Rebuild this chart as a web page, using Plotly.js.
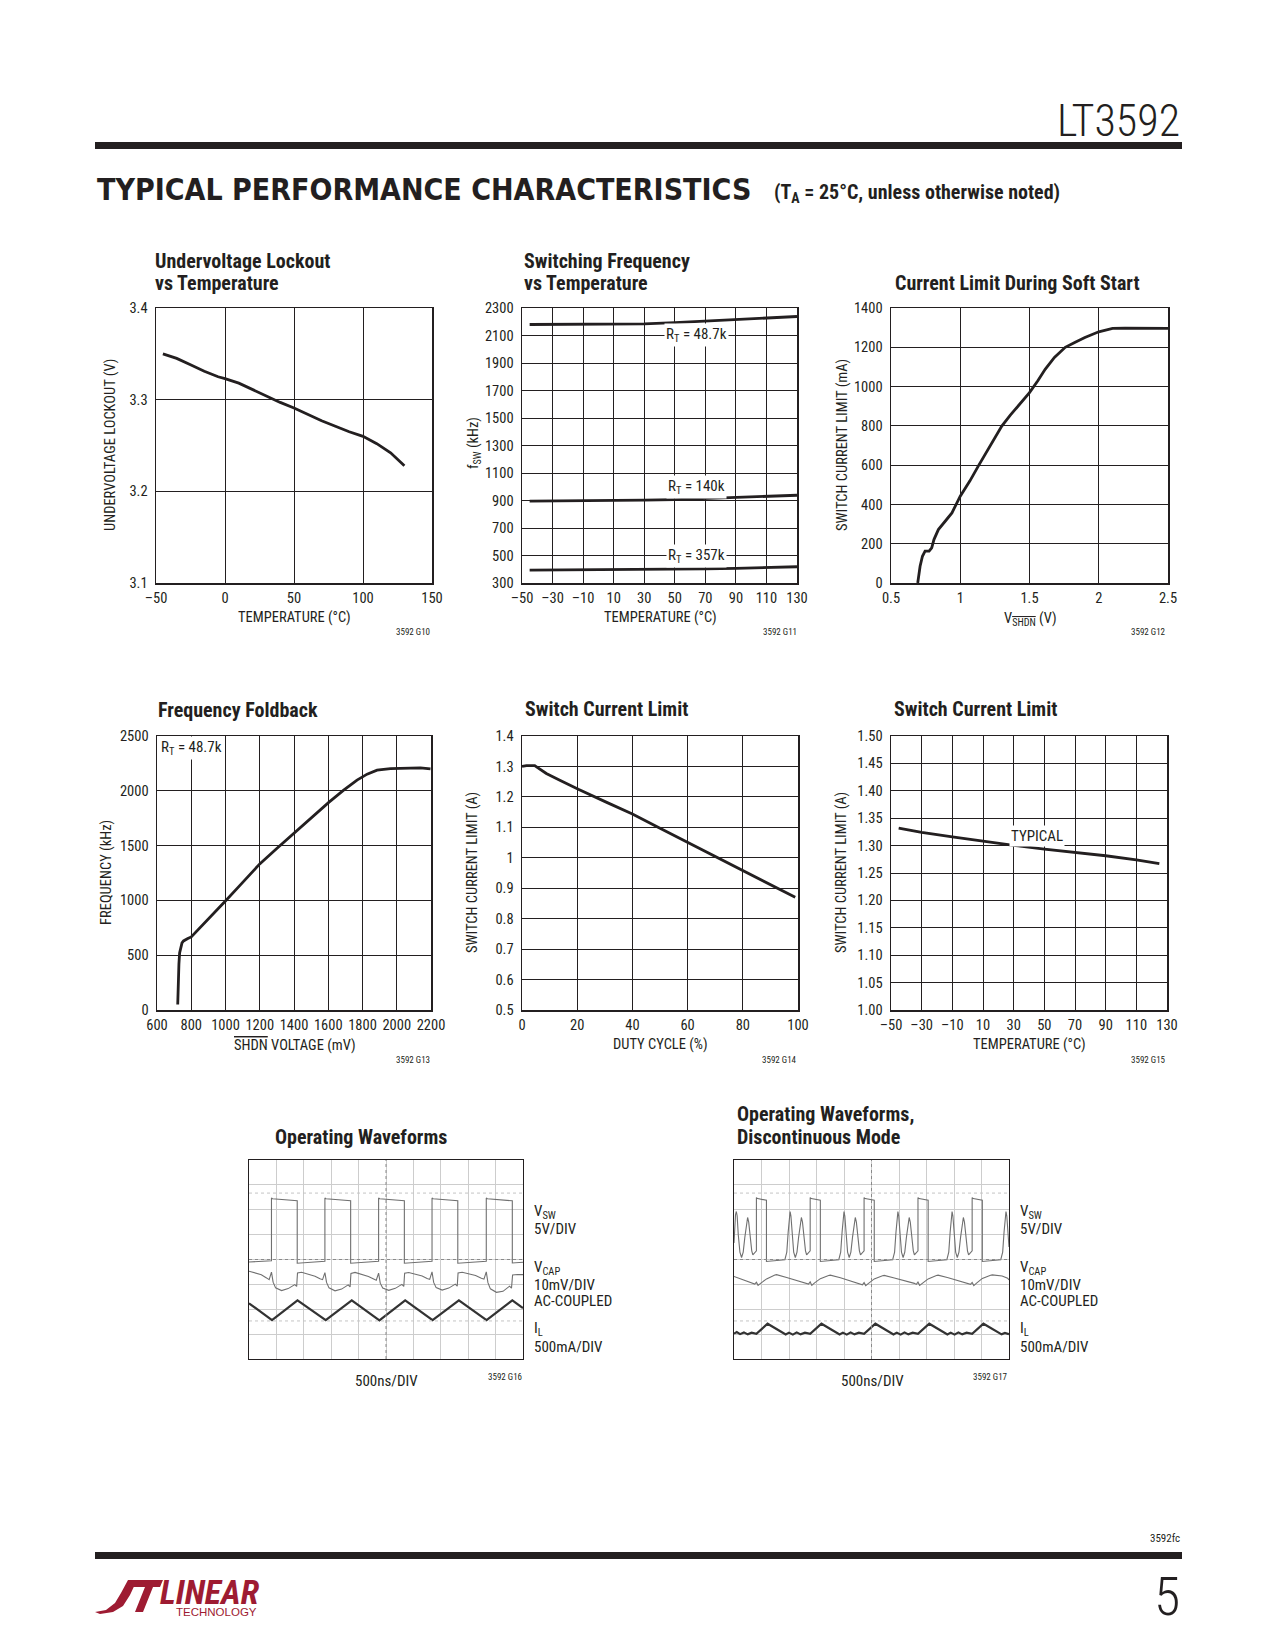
<!DOCTYPE html>
<html><head><meta charset="utf-8">
<script src="https://cdn.plot.ly/plotly-3.0.1.min.js"></script>
<style>html,body{margin:0;padding:0;background:#fff}</style>
</head><body><div id="page" style="width:1275px;height:1650px"></div>
<script>
// ---------------- DATA ----------------
// Undervoltage lockout vs temperature
const uvloTemp = [-45, -35, -25, -15, -5, 0, 10, 20, 30, 40, 50, 60, 70, 80, 90, 100, 110, 120, 130];
const uvloVolt = [3.350, 3.345, 3.338, 3.331, 3.325, 3.323, 3.318, 3.311, 3.304, 3.297, 3.291, 3.284, 3.277, 3.271, 3.265, 3.260, 3.252, 3.242, 3.228];
// Switching frequency vs temperature
const fswTemp = [-45, -30, -10, 10, 30, 50, 70, 90, 110, 130];
const fsw48k7 = [2180, 2180, 2181, 2182, 2185, 2194, 2204, 2214, 2226, 2238];
const fsw140k = [895, 896, 897, 899, 902, 907, 914, 921, 930, 938];
const fsw357k = [394, 395, 395, 396, 398, 400, 403, 407, 413, 418];
// Current limit during soft start
const ssVolt = [0.693, 0.71, 0.727, 0.746, 0.775, 0.794, 0.81, 0.842, 0.90, 0.94, 1.0, 1.07, 1.13, 1.22, 1.30, 1.36, 1.42, 1.50, 1.56, 1.613, 1.68, 1.758, 1.83, 1.90, 2.0, 2.10, 2.19, 2.3, 2.4, 2.5];
const ssLimit = [0, 85, 136, 162, 162, 179, 221, 272, 322, 357, 442, 520, 595, 700, 799, 853, 901, 969, 1030, 1088, 1148, 1200, 1226, 1250, 1279, 1296, 1298, 1297, 1297, 1296];
// Frequency foldback
const ffShdn = [721, 723, 725, 728, 732, 738, 746, 755, 765, 780, 800, 853, 931, 1001, 1087, 1200, 1301, 1402, 1505, 1603, 1690, 1768, 1827, 1885, 1963, 2060, 2138, 2197];
const ffFreq = [50, 200, 309, 420, 521, 575, 612, 630, 642, 652, 667, 752, 880, 997, 1142, 1333, 1476, 1618, 1764, 1894, 2006, 2097, 2152, 2188, 2203, 2209, 2209, 2200];
// Switch current limit vs duty cycle
const dcDuty = [0, 1.6, 4.6, 6.4, 8.8, 13.7, 20.4, 30.7, 40, 50, 60, 70.7, 80, 90, 99];
const dcLimit = [1.300, 1.303, 1.303, 1.293, 1.277, 1.255, 1.225, 1.182, 1.144, 1.097, 1.051, 1.002, 0.958, 0.912, 0.870];
// Switch current limit vs temperature
const sclTemp = [-45, -30, -10, 10, 30, 50, 70, 90, 110, 125];
const sclLimit = [1.332, 1.324, 1.316, 1.308, 1.3005, 1.2935, 1.2875, 1.2815, 1.274, 1.267];

// Operating waveforms (x, y in scope divisions)
const w1SwX = [0, 0.82, 0.82, 0.86, 1.76, 1.76, 2.77, 2.77, 2.81, 3.71, 3.71, 4.73, 4.73, 4.77, 5.67, 5.67, 6.68, 6.68, 6.72, 7.62, 7.62, 8.66, 8.66, 8.70, 9.61, 9.61, 10];
const w1SwY = [3.90, 3.95, 6.47, 6.44, 6.36, 3.85, 3.93, 6.47, 6.44, 6.36, 3.85, 3.93, 6.47, 6.44, 6.36, 3.85, 3.93, 6.47, 6.44, 6.36, 3.85, 3.93, 6.47, 6.44, 6.36, 3.86, 3.89];
const w1CapX = [0, 0.2, 0.45, 0.64, 0.735, 0.82, 0.88, 0.97, 1.19, 1.43, 1.67, 1.74, 1.77, 1.92, 2.16, 2.41, 2.59, 2.685, 2.77, 2.83, 2.92, 3.14, 3.38, 3.62, 3.69, 3.72, 3.87, 4.11, 4.36, 4.55, 4.645, 4.73, 4.79, 4.88, 5.10, 5.34, 5.58, 5.65, 5.68, 5.83, 6.07, 6.32, 6.50, 6.595, 6.68, 6.74, 6.83, 7.05, 7.29, 7.53, 7.60, 7.63, 7.78, 8.02, 8.27, 8.48, 8.575, 8.66, 8.72, 8.81, 9.03, 9.27, 9.51, 9.58, 9.62, 9.80, 10];
const w1CapY = [3.53, 3.46, 3.39, 3.26, 3.19, 3.49, 3.09, 2.86, 2.75, 2.83, 2.99, 2.92, 3.46, 3.49, 3.42, 3.33, 3.23, 3.19, 3.47, 3.08, 2.86, 2.74, 2.81, 2.98, 2.90, 3.44, 3.48, 3.41, 3.32, 3.22, 3.17, 3.45, 3.05, 2.85, 2.76, 2.84, 3.00, 2.92, 3.45, 3.48, 3.42, 3.34, 3.24, 3.20, 3.50, 3.08, 2.87, 2.77, 2.85, 3.01, 2.93, 3.46, 3.49, 3.44, 3.36, 3.25, 3.21, 3.50, 3.07, 2.82, 2.68, 2.72, 2.93, 2.85, 3.38, 3.40, 3.39];
const w1IlX = [0, 0.84, 1.77, 2.80, 3.75, 4.76, 5.70, 6.70, 7.66, 8.67, 9.61, 10];
const w1IlY = [2.24, 1.56, 2.36, 1.56, 2.36, 1.55, 2.36, 1.56, 2.36, 1.56, 2.36, 2.05];

const w2SwX = [0, 0.015, 0.055, 0.085, 0.115, 0.155, 0.215, 0.275, 0.335, 0.395, 0.455, 0.495, 0.535, 0.585, 0.645, 0.685, 0.755, 0.815, 0.815, 0.86, 1.18, 1.18,
  1.85, 1.92, 1.97, 2.01, 2.04, 2.07, 2.11, 2.17, 2.23, 2.29, 2.35, 2.41, 2.45, 2.49, 2.54, 2.60, 2.64, 2.71, 2.77, 2.77, 2.81, 3.14, 3.14,
  3.81, 3.88, 3.93, 3.97, 4.00, 4.03, 4.07, 4.13, 4.19, 4.25, 4.31, 4.37, 4.41, 4.45, 4.50, 4.56, 4.60, 4.67, 4.73, 4.73, 4.77, 5.10, 5.10,
  5.77, 5.84, 5.89, 5.93, 5.96, 5.99, 6.03, 6.09, 6.15, 6.21, 6.27, 6.33, 6.37, 6.41, 6.46, 6.52, 6.56, 6.63, 6.69, 6.69, 6.73, 7.06, 7.06,
  7.74, 7.81, 7.86, 7.90, 7.93, 7.96, 8.00, 8.06, 8.12, 8.18, 8.24, 8.30, 8.34, 8.38, 8.43, 8.49, 8.53, 8.60, 8.66, 8.66, 8.70, 9.03, 9.03,
  9.70, 9.77, 9.82, 9.86, 9.89, 9.92, 9.96, 10];
const w2SwY = [4.66, 5.1, 5.8, 5.93, 5.75, 5.0, 4.3, 4.08, 4.3, 4.9, 5.5, 5.69, 5.5, 4.9, 4.35, 4.19, 4.3, 4.35, 6.49, 6.45, 6.38, 3.92,
  3.99, 4.3, 5.1, 5.8, 5.93, 5.75, 5.0, 4.3, 4.08, 4.3, 4.9, 5.5, 5.69, 5.5, 4.9, 4.35, 4.19, 4.3, 4.35, 6.49, 6.45, 6.38, 3.92,
  3.99, 4.3, 5.1, 5.8, 5.93, 5.75, 5.0, 4.3, 4.08, 4.3, 4.9, 5.5, 5.69, 5.5, 4.9, 4.35, 4.19, 4.3, 4.35, 6.49, 6.45, 6.38, 3.92,
  3.99, 4.3, 5.1, 5.8, 5.93, 5.75, 5.0, 4.3, 4.08, 4.3, 4.9, 5.5, 5.69, 5.5, 4.9, 4.35, 4.19, 4.3, 4.35, 6.49, 6.45, 6.38, 3.92,
  3.99, 4.3, 5.1, 5.8, 5.93, 5.75, 5.0, 4.3, 4.08, 4.3, 4.9, 5.5, 5.69, 5.5, 4.9, 4.35, 4.19, 4.3, 4.35, 6.49, 6.45, 6.38, 3.92,
  3.99, 4.3, 5.1, 5.8, 5.93, 5.75, 5.0, 4.5];
const w2CapX = [0, 0.30, 0.60, 0.755, 0.815, 0.875, 0.965, 1.185, 1.485, 1.545, 1.915, 2.275, 2.645, 2.71, 2.77, 2.83, 2.92, 3.14, 3.44, 3.50, 3.87, 4.23, 4.60, 4.67, 4.73, 4.79, 4.88, 5.10, 5.40, 5.46, 5.83, 6.19, 6.56, 6.63, 6.69, 6.75, 6.84, 7.06, 7.36, 7.42, 7.79, 8.15, 8.52, 8.60, 8.66, 8.72, 8.81, 9.03, 9.33, 9.39, 9.75, 9.95, 10];
const w2CapY = [3.32, 3.20, 3.06, 3.01, 3.09, 2.96, 3.04, 3.22, 3.38, 3.39, 3.28, 3.16, 3.03, 3.01, 3.10, 2.96, 3.05, 3.23, 3.36, 3.37, 3.27, 3.14, 3.02, 2.98, 3.07, 2.95, 3.03, 3.22, 3.35, 3.36, 3.26, 3.16, 3.04, 3.00, 3.09, 2.96, 3.04, 3.22, 3.36, 3.37, 3.27, 3.15, 3.03, 3.00, 3.08, 2.95, 3.04, 3.24, 3.37, 3.38, 3.34, 3.25, 3.18];
const w2IlX = [0, 0.10, 0.22, 0.36, 0.50, 0.64, 0.815, 1.22, 1.88, 2.00, 2.14, 2.28, 2.42, 2.58, 2.77, 3.18, 3.84, 3.96, 4.10, 4.24, 4.38, 4.54, 4.73, 5.14, 5.80, 5.92, 6.06, 6.20, 6.34, 6.50, 6.69, 7.10, 7.76, 7.88, 8.02, 8.16, 8.30, 8.46, 8.66, 9.07, 9.73, 9.85, 10];
const w2IlY = [1.02, 1.08, 1.00, 1.07, 0.99, 1.06, 1.01, 1.42, 0.99, 1.06, 0.98, 1.07, 0.99, 1.06, 1.01, 1.42, 0.99, 1.06, 0.98, 1.07, 0.99, 1.06, 1.01, 1.42, 0.99, 1.06, 0.98, 1.07, 0.99, 1.06, 1.01, 1.42, 0.99, 1.06, 0.98, 1.07, 0.99, 1.06, 1.01, 1.42, 0.99, 1.05, 1.00];

// tick labels
const tTemp200 = ['\u201350', '0', '50', '100', '150'];
const tTemp20 = ['\u201350', '\u201330', '\u201310', '10', '30', '50', '70', '90', '110', '130'];
const tUvlo = ['3.1', '3.2', '3.3', '3.4'];
const tFsw = ['300', '500', '700', '900', '1100', '1300', '1500', '1700', '1900', '2100', '2300'];
const tSsV = ['0.5', '1', '1.5', '2', '2.5'];
const tSsI = ['0', '200', '400', '600', '800', '1000', '1200', '1400'];
const tFfX = ['600', '800', '1000', '1200', '1400', '1600', '1800', '2000', '2200'];
const tFfY = ['0', '500', '1000', '1500', '2000', '2500'];
const tDuty = ['0', '20', '40', '60', '80', '100'];
const tDcI = ['0.5', '0.6', '0.7', '0.8', '0.9', '1', '1.1', '1.2', '1.3', '1.4'];
const tSclI = ['1.00', '1.05', '1.10', '1.15', '1.20', '1.25', '1.30', '1.35', '1.40', '1.45', '1.50'];

// ---------------- LAYOUT ----------------
const W = 1275, H = 1650;
const FN = "Roboto Condensed, Noto Sans Condensed, Liberation Sans Narrow, DejaVu Sans Condensed, sans-serif";
const INK = '#231f20';
const RED = '#9e1b32';
const nums = a => a.map(s => Number(s.replace('\u2013', '-')));

const layout = {width: W, height: H, margin: {l: 0, r: 0, t: 0, b: 0}, showlegend: false,
  paper_bgcolor: '#fff', plot_bgcolor: '#fff', annotations: [], shapes: []};
const traces = [];

function sfx(i) { return i === 1 ? '' : String(i); }
function axes(i, box, xr, xt, yr, yt, scope) {
  const base = {showline: true, mirror: true, linecolor: INK, linewidth: 1.5, zeroline: false,
    showgrid: true, gridcolor: INK, gridwidth: 1, ticks: '', fixedrange: true, tickangle: 0,
    tickfont: {family: FN, size: 14.5, color: INK}};
  const xa = Object.assign({}, base, {domain: [box[0] / W, box[2] / W], range: xr, anchor: 'y' + sfx(i), ticklabelstandoff: 1});
  const ya = Object.assign({}, base, {domain: [1 - box[3] / H, 1 - box[1] / H], range: yr, anchor: 'x' + sfx(i), ticklabelstandoff: 4});
  if (scope) {
    [xa, ya].forEach(a => { a.gridcolor = '#cdcdcd'; a.showticklabels = false; a.dtick = 1; a.tick0 = 0; a.linewidth = 1.3; });
  } else {
    xa.tickmode = 'array'; xa.tickvals = nums(xt); xa.ticktext = xt;
    ya.tickmode = 'array'; ya.tickvals = nums(yt); ya.ticktext = yt;
  }
  layout['xaxis' + sfx(i)] = xa; layout['yaxis' + sfx(i)] = ya;
}
function line(i, x, y, w, c) {
  traces.push({type: 'scatter', mode: 'lines', x: x, y: y, xaxis: 'x' + sfx(i), yaxis: 'y' + sfx(i),
    line: {color: c || INK, width: w || 2.8}, hoverinfo: 'skip'});
}
function T(text, x, y, size, o) {
  o = o || {};
  const f = {family: o.fam || FN, size: size, color: o.col || INK};
  if (o.wt) f.weight = o.wt;
  layout.annotations.push({text: text, x: x / W, y: 1 - y / H, xref: 'paper', yref: 'paper', showarrow: false,
    xanchor: o.xa || 'center', yanchor: o.ya || 'middle', textangle: o.ang || 0, font: f});
}
function D(i, text, x, y, size, o) {
  o = o || {};
  layout.annotations.push({text: text, x: x, y: y, xref: 'x' + sfx(i), yref: 'y' + sfx(i), showarrow: false,
    xanchor: o.xa || 'center', yanchor: o.ya || 'middle', bgcolor: o.bg || 'rgba(0,0,0,0)', borderpad: 1,
    font: {family: FN, size: size, color: INK}});
}
function P(pts) { return 'M ' + pts.map(p => (p[0] / W).toFixed(5) + ' ' + (1 - p[1] / H).toFixed(5)).join(' L ') + ' Z'; }
function rectPx(x0, y0, x1, y1, col) {
  layout.shapes.push({type: 'rect', xref: 'paper', yref: 'paper', x0: x0 / W, x1: x1 / W, y0: 1 - y1 / H, y1: 1 - y0 / H,
    fillcolor: col, line: {width: 0}});
}

// plot boxes [left, top, right, bottom] in px
const B1 = [156, 308, 432, 583], B2 = [522, 308, 797, 583], B3 = [891, 308, 1168, 583];
const B4 = [157, 736, 431, 1010], B5 = [522, 736, 798, 1010], B6 = [891, 736, 1167, 1010];
const B7 = [249, 1160, 523, 1359], B8 = [734, 1160, 1009, 1359];

axes(1, B1, [-50, 150], tTemp200, [3.1, 3.4], tUvlo);
axes(2, B2, [-50, 130], tTemp20, [300, 2300], tFsw);
axes(3, B3, [0.5, 2.5], tSsV, [0, 1400], tSsI);
axes(4, B4, [600, 2200], tFfX, [0, 2500], tFfY);
axes(5, B5, [0, 100], tDuty, [0.5, 1.4], tDcI);
axes(6, B6, [-50, 130], tTemp20, [1.0, 1.5], tSclI);
axes(7, B7, [0, 10], null, [0, 8], null, true);
axes(8, B8, [0, 10], null, [0, 8], null, true);

line(1, uvloTemp, uvloVolt);
line(2, fswTemp, fsw48k7); line(2, fswTemp, fsw140k); line(2, fswTemp, fsw357k);
line(3, ssVolt, ssLimit);
line(4, ffShdn, ffFreq);
line(5, dcDuty, dcLimit);
line(6, sclTemp, sclLimit);
line(7, w1SwX, w1SwY, 1.1, '#707070'); line(7, w1CapX, w1CapY, 1.1, '#707070'); line(7, w1IlX, w1IlY, 2.2, '#333');
line(8, w2SwX, w2SwY, 1.1, '#707070'); line(8, w2CapX, w2CapY, 1.1, '#707070'); line(8, w2IlX, w2IlY, 2.2, '#333');

// scope centre lines & marker lines
[7, 8].forEach(i => {
  const xr = 'x' + i, yr = 'y' + i;
  layout.shapes.push({type: 'line', xref: xr, yref: yr, x0: 5, x1: 5, y0: 0, y1: 8, line: {color: '#8a8a8a', width: 1, dash: 'dot'}});
  layout.shapes.push({type: 'line', xref: xr, yref: yr, x0: 0, x1: 10, y0: 4, y1: 4, line: {color: '#8a8a8a', width: 1, dash: 'dot'}});
  layout.shapes.push({type: 'line', xref: xr, yref: yr, x0: 0, x1: 10, y0: 6.67, y1: 6.67, line: {color: '#c4c4c4', width: 1, dash: 'dot'}});
  layout.shapes.push({type: 'line', xref: xr, yref: yr, x0: 0, x1: 10, y0: 1.53, y1: 1.53, line: {color: '#c4c4c4', width: 1, dash: 'dot'}});
});

// in-plot labels
D(2, 'R<sub>T</sub> = 48.7k', 64, 2100, 15, {bg: '#fff'});
D(2, 'R<sub>T</sub> = 140k', 64, 1000, 15, {bg: '#fff'});
D(2, 'R<sub>T</sub> = 357k', 64, 495, 15, {bg: '#fff'});
D(4, 'R<sub>T</sub> = 48.7k', 612, 2390, 15, {bg: '#fff', xa: 'left'});
D(6, 'TYPICAL', 45, 1.317, 15, {bg: '#fff'});

// chart titles
const TB = {xa: 'left'};
T('<b>Undervoltage Lockout</b>', 153, 261, 20, TB); T('<b>vs Temperature</b>', 153, 283, 20, TB);
T('<b>Switching Frequency</b>', 522, 261, 20, TB); T('<b>vs Temperature</b>', 522, 283, 20, TB);
T('<b>Current Limit During Soft Start</b>', 893, 283, 20, TB);
T('<b>Frequency Foldback</b>', 156, 710, 20, TB);
T('<b>Switch Current Limit</b>', 523, 709, 20, TB);
T('<b>Switch Current Limit</b>', 892, 709, 20, TB);
T('<b>Operating Waveforms</b>', 273, 1137, 20, TB);
T('<b>Operating Waveforms,</b>', 735, 1114, 20, TB); T('<b>Discontinuous Mode</b>', 735, 1137, 20, TB);

// axis titles
const OV = s => '<span style="text-decoration:overline">' + s + '</span>';
T('TEMPERATURE (\u00b0C)', 294, 617, 14.5); T('TEMPERATURE (\u00b0C)', 660, 617, 14.5);
T('V<sub>' + OV('SHDN') + '</sub> (V)', 1030, 619, 14.5);
T(OV('SHDN') + ' VOLTAGE (mV)', 295, 1045, 14.5); T('DUTY CYCLE (%)', 660, 1044, 14.5); T('TEMPERATURE (\u00b0C)', 1029, 1044, 14.5);
const R90 = {ang: -90};
T('UNDERVOLTAGE LOCKOUT (V)', 110, 445, 14.5, R90);
T('f<sub>SW</sub> (kHz)', 474, 443, 14.5, R90);
T('SWITCH CURRENT LIMIT (mA)', 842, 445, 14.5, R90);
T('FREQUENCY (kHz)', 107, 873, 14.5, R90);
T('SWITCH CURRENT LIMIT (A)', 473, 873, 14.5, R90);
T('SWITCH CURRENT LIMIT (A)', 842, 873, 14.5, R90);

// figure codes
const RA = {xa: 'right'};
T('3592 G10', 432, 632, 9, RA); T('3592 G11', 799, 632, 9, RA); T('3592 G12', 1168, 632, 9, RA);
T('3592 G13', 432, 1060, 9, RA); T('3592 G14', 799, 1060, 9, RA); T('3592 G15', 1168, 1060, 9, RA);
T('3592 G16', 524, 1377, 9, RA); T('3592 G17', 1010, 1377, 9, RA);

// scope labels
[532, 1018].forEach(x => {
  const L = {xa: 'left'};
  T('V<sub>SW</sub>', x, 1212, 15, L); T('5V/DIV', x, 1229, 15, L);
  T('V<sub>CAP</sub>', x, 1268, 15, L); T('10mV/DIV', x, 1285, 15, L); T('AC-COUPLED', x, 1301, 15, L);
  T('I<sub>L</sub>', x, 1329, 15, L); T('500mA/DIV', x, 1347, 15, L);
});
T('500ns/DIV', 386, 1381, 15); T('500ns/DIV', 872, 1381, 15);

// page header / footer
rectPx(95, 142, 1182, 149, INK);
rectPx(95, 1552, 1182, 1559, INK);
T('LT3592', 1182, 121, 44, {xa: 'right', wt: 300});
T('<b>TYPICAL PERFORMANCE CHARACTERISTICS</b>', 95, 190, 30, {xa: 'left', fam: 'DejaVu Sans Condensed, sans-serif'});
T('<b>(T<sub>A</sub> = 25\u00b0C, unless otherwise noted)</b>', 772, 193, 20, {xa: 'left'});
T('3592fc', 1182, 1538, 11, {xa: 'right'});
T('5', 1182, 1596, 54, {xa: 'right', wt: 300});

// logo
layout.shapes.push({type: 'path', xref: 'paper', yref: 'paper', fillcolor: RED, line: {width: 0},
  path: P([[95, 1612], [106, 1610], [115, 1603], [121, 1593], [128, 1580], [137, 1580], [130, 1595], [123, 1606], [113, 1612], [100, 1614]])});
layout.shapes.push({type: 'path', xref: 'paper', yref: 'paper', fillcolor: RED, line: {width: 0},
  path: P([[132, 1580], [163, 1580], [160, 1587], [129, 1587]])});
layout.shapes.push({type: 'path', xref: 'paper', yref: 'paper', fillcolor: RED, line: {width: 0},
  path: P([[145, 1587], [153, 1587], [143, 1612], [135, 1612]])});
T('<b><i>LINEAR</i></b>', 158, 1592, 34, {xa: 'left', col: RED});
T('TECHNOLOGY', 259, 1612, 11.5, {xa: 'right', col: RED, fam: 'Liberation Sans, Arial, sans-serif'});

Plotly.newPlot('page', traces, layout, {staticPlot: true, displayModeBar: false});
</script>
</body></html>
